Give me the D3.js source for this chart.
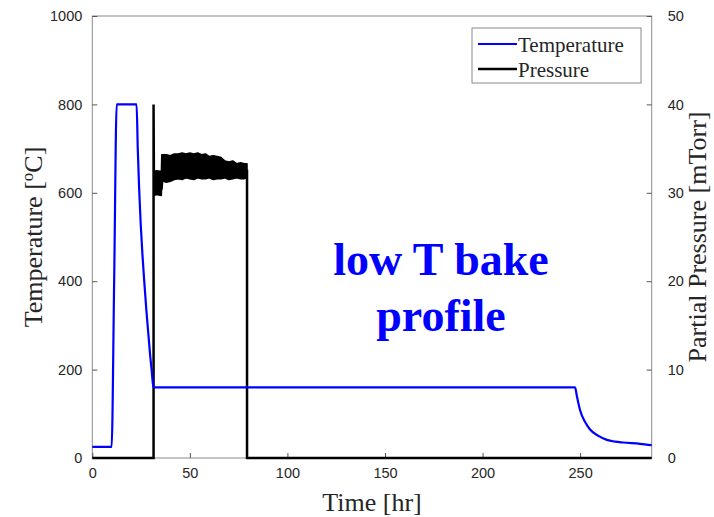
<!DOCTYPE html>
<head>
<meta charset="utf-8">
<style>
  body { margin: 0; background: #fff; }
  .tick text { font-family: "Liberation Sans", Arial, sans-serif; font-size: 14.5px; fill: #262626; }
  .tick line { stroke: #555; }
  .domain { stroke: none; }
  .serif { font-family: "Liberation Serif", "Times New Roman", serif; fill: #262626; }
</style>
</head>
<body>
<svg width="714" height="517" class="chart"></svg>
<script src="https://cdn.jsdelivr.net/npm/d3@7"></script>
<script>
// temperature profile (deg C) vs time (hr)
const tempTime  = [0, 5, 9.9, 11.2, 12.5, 15, 18, 20, 22.7, 23.3, 24.0, 24.8, 25.7, 26.7, 27.7, 28.7, 29.7, 30.5, 31.3,
                   50, 100, 150, 200, 247.4, 248.4, 250, 252.5, 255, 259.4, 263.7, 268, 272, 280.7, 286.7];
const tempValue = [25, 25, 25, 400, 800, 800, 800, 800, 800, 700, 610, 530, 460, 395, 335, 282, 230, 195, 160,
                   160, 160, 160, 160, 160, 139, 108, 82, 65, 50, 41, 37, 35, 32, 29];

// pressure outline (mTorr)
const presTime  = [0, 31.4, 31.4, 31.6, 35.5, 36.3, 79.3, 79.3, 286.7];
const presValue = [0, 0, 40, 30.5, 30.5, 32.5, 32.5, 0, 0];

// noisy pressure band: min / max envelope (mTorr)
const bandTime = [31.5, 33, 35.4, 35.6, 38, 40, 42, 44, 46, 48, 50, 52, 54, 56, 58, 60, 62, 64, 66, 68, 70, 72, 74, 76, 78, 79.3];
const bandLow  = [29.7, 29.8, 29.7, 31.4, 31.2, 31.3, 31.5, 31.6, 31.5, 31.7, 31.6, 31.5, 31.7, 31.6, 31.6, 31.7, 31.5, 31.6, 31.6, 31.7, 31.5, 31.6, 31.7, 31.6, 31.6, 31.7];
const bandHigh = [32.4, 32.5, 32.4, 34.3, 34.3, 34.2, 34.4, 34.4, 34.5, 34.4, 34.5, 34.4, 34.5, 34.3, 34.4, 34.1, 34.2, 34.1, 34.0, 33.6, 33.5, 33.6, 33.3, 33.4, 33.3, 33.3];

const xTicks = [0, 50, 100, 150, 200, 250];
const yTicks = [0, 200, 400, 600, 800, 1000];
const y2Ticks = [0, 10, 20, 30, 40, 50];

var svg = d3.select(".chart"),
    margin = {top: 16, right: 62.3, bottom: 59, left: 92.3},
    width = +svg.attr("width") - margin.left - margin.right,
    height = +svg.attr("height") - margin.top - margin.bottom;

var x = d3.scaleLinear().domain([0, 286.7]).range([0, width]),
    y = d3.scaleLinear().domain([0, 1000]).range([height, 0]),
    y2 = d3.scaleLinear().domain([0, 50]).range([height, 0]);

var g = svg.append("g")
    .attr("transform", "translate(" + margin.left + "," + margin.top + ")");

// axes box
g.append("rect")
    .attr("width", width).attr("height", height)
    .attr("fill", "none").attr("stroke", "#8a8a8a").attr("stroke-width", 1);

g.append("g")
    .attr("transform", "translate(0," + height + ")")
    .call(d3.axisBottom(x).tickValues(xTicks).tickSize(-5).tickPadding(10));

g.append("g")
    .call(d3.axisLeft(y).tickValues(yTicks).tickFormat(d3.format("d")).tickSize(-5).tickPadding(10));

g.append("g")
    .attr("transform", "translate(" + width + ",0)")
    .call(d3.axisRight(y2).tickValues(y2Ticks).tickSize(-5).tickPadding(16));

// pressure
var band = d3.area()
    .x(function(d, i) { return x(bandTime[i]); })
    .y0(function(d, i) { return y2(bandLow[i]); })
    .y1(function(d, i) { return y2(bandHigh[i]); });

g.append("path")
    .datum(bandTime)
    .attr("d", band)
    .attr("fill", "#000")
    .attr("stroke", "#000")
    .attr("stroke-width", 1.5)
    .attr("stroke-linejoin", "round");

var presLine = d3.line()
    .x(function(d, i) { return x(presTime[i]); })
    .y(function(d, i) { return y2(presValue[i]); });

g.append("path")
    .datum(presTime)
    .attr("d", presLine)
    .attr("fill", "none")
    .attr("stroke", "#000")
    .attr("stroke-width", 2.5);

// temperature
var tempLine = d3.line()
    .x(function(d, i) { return x(tempTime[i]); })
    .y(function(d, i) { return y(tempValue[i]); })
    .curve(d3.curveMonotoneX);

g.append("path")
    .datum(tempTime)
    .attr("d", tempLine)
    .attr("fill", "none")
    .attr("stroke", "#0000ff")
    .attr("stroke-width", 2.2);

// axis titles
svg.append("text")
    .attr("class", "serif")
    .attr("x", margin.left + width / 2).attr("y", 511)
    .attr("text-anchor", "middle")
    .style("font-size", "26px")
    .text("Time [hr]");

var yl = svg.append("text")
    .attr("class", "serif")
    .attr("transform", "translate(42," + (margin.top + height / 2) + ") rotate(-90)")
    .attr("text-anchor", "middle")
    .style("font-size", "26px");
yl.append("tspan").text("Temperature [");
yl.append("tspan").attr("dy", "-9").style("font-size", "17px").text("o");
yl.append("tspan").attr("dy", "9").text("C]");

svg.append("text")
    .attr("class", "serif")
    .attr("transform", "translate(706," + (margin.top + height / 2) + ") rotate(-90)")
    .attr("text-anchor", "middle")
    .style("font-size", "26px")
    .text("Partial Pressure [mTorr]");

// annotation
var note = svg.append("text")
    .attr("class", "serif")
    .attr("text-anchor", "middle")
    .style("font-size", "46px")
    .style("font-weight", "bold")
    .style("fill", "#0000ff");
note.append("tspan").attr("x", 441).attr("y", 275).text("low T bake");
note.append("tspan").attr("x", 441).attr("y", 331).text("profile");

// legend
var legendItems = ["Temperature", "Pressure"];
var legendColors = ["#0000ff", "#000"];
var legend = svg.append("g").attr("transform", "translate(472,28)");
legend.append("rect")
    .attr("width", 169).attr("height", 55)
    .attr("fill", "#fff").attr("stroke", "#8a8a8a");
legendItems.forEach(function(name, i) {
    legend.append("line")
        .attr("x1", 6).attr("x2", 45)
        .attr("y1", 16 + i * 25).attr("y2", 16 + i * 25)
        .attr("stroke", legendColors[i]).attr("stroke-width", i ? 2.5 : 2);
    legend.append("text")
        .attr("class", "serif")
        .attr("x", 46).attr("y", 24 + i * 25)
        .style("font-size", "21px")
        .text(name);
});
</script>
</body>
